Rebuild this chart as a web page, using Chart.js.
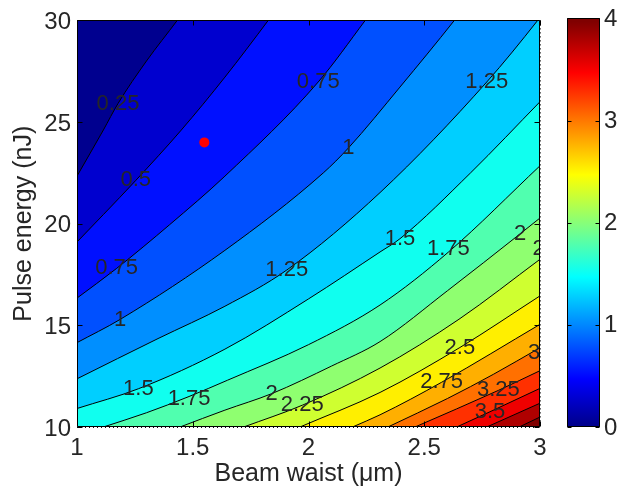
<!DOCTYPE html>
<html>
<head>
<meta charset="utf-8">
<script src="https://cdn.jsdelivr.net/npm/chart.js@4.4.1/dist/chart.umd.min.js"></script>
<style>
  html, body { margin: 0; padding: 0; background: #fff; }
  #wrap { position: relative; width: 620px; height: 487px; }
  #contour { position: absolute; left: 0; top: 0; }
  #cbar { position: absolute; left: 540px; top: 0; }
</style>
</head>
<body>
<div id="wrap">
  <canvas id="contour" width="620" height="487"></canvas>
  <canvas id="cbar" width="80" height="487"></canvas>
</div>
<script>
// contour levels, and the path of each level line as [beam waist (um), pulse energy (nJ)]
// (points past the frame only keep the fill going to the edge)
const levels = [0.25, 0.5, 0.75, 1, 1.25, 1.5, 1.75, 2, 2.25, 2.5, 2.75, 3, 3.25, 3.5, 3.75, 4];

const line025 = [[1, 22.34], [1.114, 24.61], [1.177, 25.91], [1.3, 28.0], [1.433, 30], [1.6, 32.6], [3, 32.6]];
const line050 = [[1, 19.1], [1.114, 20.45], [1.254, 22.13], [1.45, 24.6], [1.639, 27.21], [1.826, 30], [2, 32.7], [3, 32.7]];
const line075 = [[1, 16.34], [1.171, 17.8], [1.4, 19.95], [1.639, 22.34], [2.042, 26.97], [2.245, 30], [2.4, 32.4], [3, 32.4]];
const line100 = [[1, 14.15], [1.186, 15.29], [1.639, 18.69], [2.064, 22.5], [2.172, 23.72], [2.395, 26.72], [2.63, 30], [2.8, 32.5], [3, 32.5]];
const line125 = [[1, 12.37], [1.35, 14.35], [1.639, 15.94], [1.906, 17.72], [2.309, 21.53], [2.77, 26.97], [2.99, 30], [3, 30.15]];
const line150 = [[1, 10.91], [1.265, 11.88], [1.639, 13.83], [2, 16.3], [2.309, 18.61], [2.395, 19.26], [2.7, 22.5], [3, 26.0]];
const line175 = [[1.114, 10], [1.3, 10.7], [1.484, 11.5], [1.65, 12.3], [2, 14.05], [2.309, 16.0], [2.604, 18.6], [3, 22.85]];
const line200 = [[1.445, 10], [1.639, 10.83], [1.841, 11.64], [2.1, 13.0], [2.309, 14.2], [2.6, 16.7], [2.914, 19.5], [3, 20.28]];
const line225 = [[1.72, 10], [1.973, 11.07], [2.309, 12.9], [2.65, 15.3], [3, 18.25]];
const line250 = [[1.963, 10], [2.309, 11.7], [2.654, 13.91], [3, 16.45]];
const line275 = [[2.19, 10], [2.309, 10.6], [2.575, 12.2], [3, 15.05]];
const line300 = [[2.343, 10], [2.6, 11.4], [2.8, 12.6], [3, 13.9]];
const line325 = [[2.46, 10], [2.82, 11.8], [3, 12.77]];
const line350 = [[2.64, 10], [2.784, 10.75], [3, 11.9]];
const line375 = [[2.77, 10], [3, 11.17]];
const line400 = [[2.91, 10], [3, 10.49]];

const contourLines = [line025, line050, line075, line100, line125, line150, line175, line200,
  line225, line250, line275, line300, line325, line350, line375, line400];

// inline contour labels
const labelText = ['0.25', '0.5', '0.75', '1', '1.5', '1.75', '0.75', '1', '1.25', '2', '2.25',
  '1.25', '1.5', '1.75', '2', '2.25', '2.5', '3', '2.75', '3.25', '3.5'];
const labelWaist = [1.177, 1.254, 1.171, 1.186, 1.265, 1.484, 2.042, 2.172, 1.906, 1.841, 1.973,
  2.77, 2.395, 2.604, 2.914, 3.06, 2.654, 2.975, 2.575, 2.82, 2.784];
const labelEnergy = [25.91, 22.13, 17.8, 15.29, 11.88, 11.4, 26.97, 23.72, 17.72, 11.64, 11.07,
  26.97, 19.26, 18.74, 19.5, 18.76, 13.91, 13.65, 12.2, 11.8, 10.75];

// the red point
const markerWaist = [1.55];
const markerEnergy = [24];

const waistTicks = [1, 1.5, 2, 2.5, 3];
const energyTicks = [10, 15, 20, 25, 30];
const colorTicks = [0, 1, 2, 3, 4];

const fontFamily = '"Liberation Sans", Arial, Helvetica, sans-serif';
const textColor = '#262626';

// MATLAB jet(64) colormap entry i (1..64)
function jet64(i) {
  const u = k => k <= 16 ? k / 16 : (k <= 31 ? 1 : (48 - k) / 16);
  const r = i >= 25 ? u(i - 24) : 0;
  const g = i >= 9 && i <= 55 ? u(i - 8) : 0;
  const b = i <= 39 ? u(i + 8) : 0;
  return 'rgb(' + [r, g, b].map(v => Math.round(v * 255)).join(',') + ')';
}

function levelColor(v) {
  const cmin = colorTicks[0];
  const cmax = colorTicks[colorTicks.length - 1];
  const i = Math.min(64, Math.floor((v - cmin) / (cmax - cmin) * 64 + 1e-9) + 1);
  return jet64(i);
}

const datasets = contourLines.map((pts, i) => ({
  data: pts.map(p => ({ x: p[0], y: p[1] })),
  borderColor: '#000',
  borderWidth: 1,
  pointRadius: 0,
  cubicInterpolationMode: 'monotone',
  fill: 'start',
  backgroundColor: levelColor(levels[i]),
  clip: 0,
  order: contourLines.length - i + 1
}));

datasets.push({
  data: markerWaist.map((w, i) => ({ x: w, y: markerEnergy[i] })),
  showLine: false,
  fill: false,
  pointRadius: 5,
  pointBackgroundColor: '#ff0000',
  pointBorderColor: '#ff0000',
  pointBorderWidth: 0,
  order: 0
});

const contourFrame = {
  id: 'contourFrame',
  beforeDatasetsDraw(chart) {
    const a = chart.chartArea;
    const ctx = chart.ctx;
    ctx.save();
    ctx.fillStyle = levelColor(colorTicks[0]);
    ctx.fillRect(a.left, a.top, a.width, a.height);
    ctx.restore();
  },
  afterDraw(chart) {
    const ctx = chart.ctx;
    const a = chart.chartArea;
    const xs = chart.scales.x;
    const ys = chart.scales.y;

    // contour labels
    ctx.save();
    ctx.beginPath();
    ctx.rect(a.left, a.top, a.width, a.height);
    ctx.clip();
    ctx.font = '22px ' + fontFamily;
    ctx.fillStyle = textColor;
    ctx.textAlign = 'center';
    ctx.textBaseline = 'middle';
    labelText.forEach((t, i) => {
      ctx.fillText(t, xs.getPixelForValue(labelWaist[i]), ys.getPixelForValue(labelEnergy[i]));
    });
    ctx.restore();

    // box with inward ticks on all sides
    ctx.save();
    ctx.strokeStyle = '#000';
    ctx.lineWidth = 1;
    const L = Math.round(a.left) + 0.5, R = Math.round(a.right) - 0.5;
    const T = Math.round(a.top) + 0.5, B = Math.round(a.bottom) - 0.5;
    ctx.beginPath();
    waistTicks.forEach(v => {
      const px = Math.round(xs.getPixelForValue(v)) + 0.5;
      ctx.moveTo(px, B); ctx.lineTo(px, B - 5);
      ctx.moveTo(px, T); ctx.lineTo(px, T + 5);
    });
    energyTicks.forEach(v => {
      const py = Math.round(ys.getPixelForValue(v)) + 0.5;
      ctx.moveTo(L, py); ctx.lineTo(L + 5, py);
      ctx.moveTo(R, py); ctx.lineTo(R - 5, py);
    });
    ctx.rect(L, T, R - L, B - T);
    ctx.stroke();
    ctx.restore();
  }
};

const tickFont = { size: 24, family: fontFamily };
const titleFont = { size: 25, family: fontFamily };

new Chart(document.getElementById('contour'), {
  type: 'line',
  data: { datasets: datasets },
  options: {
    responsive: false,
    animation: false,
    devicePixelRatio: 1,
    layout: { padding: { left: 0, top: 16, right: 80, bottom: 0 } },
    plugins: { legend: { display: false }, tooltip: { enabled: false } },
    scales: {
      x: {
        type: 'linear',
        min: waistTicks[0],
        max: waistTicks[waistTicks.length - 1],
        z: 1,
        afterBuildTicks: s => { s.ticks = waistTicks.map(v => ({ value: v })); },
        afterFit: s => { s.height = 60; },
        grid: { color: '#111', lineWidth: 1, drawTicks: false },
        border: { display: false, dash: [1, 3] },
        ticks: { font: tickFont, color: textColor, padding: 7, autoSkip: false, maxRotation: 0, callback: v => String(v) },
        title: { display: true, text: 'Beam waist (μm)', font: titleFont, color: textColor, padding: { top: 0, bottom: -2 } }
      },
      y: {
        type: 'linear',
        min: energyTicks[0],
        max: energyTicks[energyTicks.length - 1],
        z: 1,
        afterBuildTicks: s => { s.ticks = energyTicks.map(v => ({ value: v })); },
        afterFit: s => { s.width = 77; },
        grid: { color: '#111', lineWidth: 1, drawTicks: false },
        border: { display: false, dash: [1, 3] },
        ticks: { font: tickFont, color: textColor, padding: 6, labelOffset: 2, autoSkip: false, callback: v => String(v) },
        title: { display: true, text: 'Pulse energy (nJ)', font: titleFont, color: textColor, padding: { top: 9, bottom: 0 } }
      }
    }
  },
  plugins: [contourFrame]
});

// colorbar
const cbarFrame = {
  id: 'cbarFrame',
  afterDraw(chart) {
    const ctx = chart.ctx;
    const a = chart.chartArea;
    const ys = chart.scales.y;
    const L = Math.round(a.left) + 0.5, R = Math.round(a.right) - 0.5;
    const T = Math.round(a.top) + 0.5, B = Math.round(a.bottom) - 0.5;
    ctx.save();
    ctx.strokeStyle = '#000';
    ctx.lineWidth = 1;
    ctx.beginPath();
    colorTicks.forEach(v => {
      const py = Math.round(ys.getPixelForValue(v)) + 0.5;
      ctx.moveTo(L, py); ctx.lineTo(L + 4, py);
      ctx.moveTo(R, py); ctx.lineTo(R - 4, py);
    });
    ctx.rect(L, T, R - L, B - T);
    ctx.stroke();
    ctx.restore();
  }
};

new Chart(document.getElementById('cbar'), {
  type: 'bar',
  data: {
    labels: [''],
    datasets: [{
      data: [[colorTicks[0], colorTicks[colorTicks.length - 1]]],
      backgroundColor: c => {
        const a = c.chart.chartArea;
        if (!a) return 'transparent';
        const g = c.chart.ctx.createLinearGradient(0, a.bottom, 0, a.top);
        for (let i = 1; i <= 64; i++) g.addColorStop((i - 0.5) / 64, jet64(i));
        return g;
      },
      borderWidth: 0,
      barPercentage: 1,
      categoryPercentage: 1
    }]
  },
  options: {
    responsive: false,
    animation: false,
    devicePixelRatio: 1,
    layout: { padding: { left: 27, top: 16, right: 0, bottom: 60 } },
    plugins: { legend: { display: false }, tooltip: { enabled: false } },
    scales: {
      x: { display: false },
      y: {
        position: 'right',
        min: colorTicks[0],
        max: colorTicks[colorTicks.length - 1],
        afterBuildTicks: s => { s.ticks = colorTicks.map(v => ({ value: v })); },
        afterFit: s => { s.width = 20; },
        grid: { display: false, drawTicks: false },
        border: { display: false },
        ticks: { font: tickFont, color: textColor, padding: 4, labelOffset: 1, autoSkip: false, callback: v => String(v) }
      }
    }
  },
  plugins: [cbarFrame]
});
</script>
</body>
</html>
